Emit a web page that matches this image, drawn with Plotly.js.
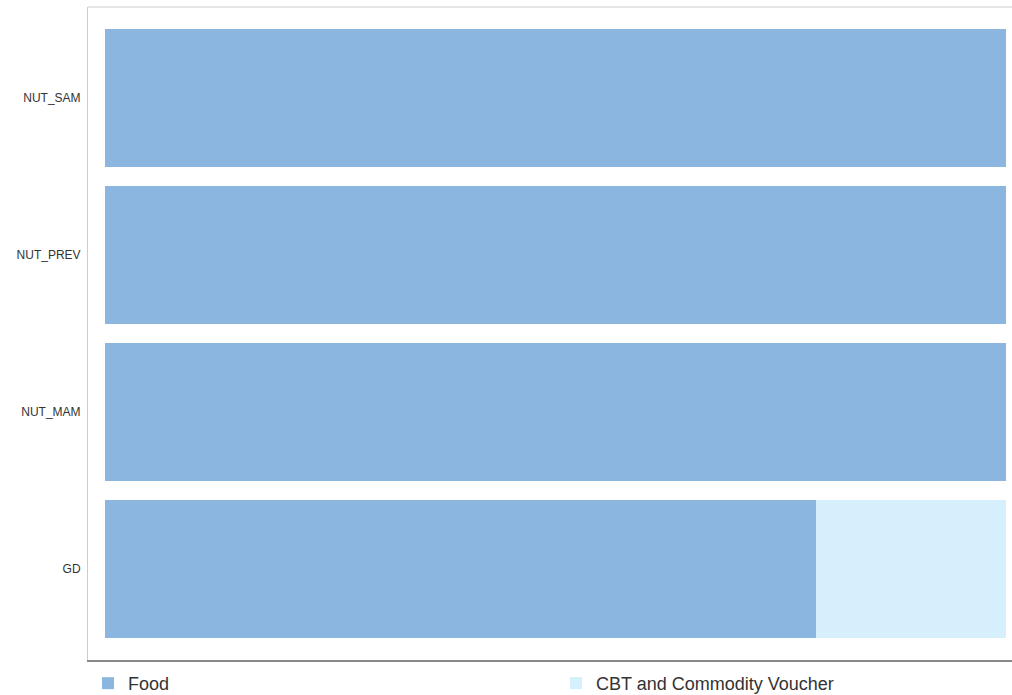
<!DOCTYPE html>
<html><head><meta charset="utf-8">
<script src="https://cdn.plot.ly/plotly-3.0.1.min.js"></script>
<style>html,body{margin:0;padding:0;background:#fff;}#chart{width:1012px;height:695px;}</style>
</head><body><div id="chart"></div>
<script>
const categories = ["GD", "NUT_MAM", "NUT_PREV", "NUT_SAM"];
const foodValues = [78.9, 100, 100, 100];
const cbtValues = [21.1, 0, 0, 0];
const seriesNames = ["Food", "CBT and Commodity Voucher"];

const traces = [
  {type:'bar', orientation:'h', name:seriesNames[0], y:categories, x:foodValues,
   marker:{color:'#8AB6E0', line:{width:0}}, legend:'legend'},
  {type:'bar', orientation:'h', name:seriesNames[1], y:categories, x:cbtValues,
   marker:{color:'#D5F0FC', line:{width:0}}, legend:'legend2'}
];
const legendFont = {family:'Liberation Sans, Arial, sans-serif', size:18, color:'#333'};
const layout = {
  width:1012, height:695,
  margin:{l:88, r:0, t:7, b:35, pad:0},
  paper_bgcolor:'#fff', plot_bgcolor:'#fff',
  barmode:'stack', bargap:0.121,
  font:{family:'Liberation Sans, Arial, sans-serif', color:'#333'},
  xaxis:{range:[-1.887, 100.67], showticklabels:false, showgrid:false, zeroline:false,
         showline:true, linecolor:'#888', linewidth:2, ticks:''},
  yaxis:{type:'category', categoryorder:'array', categoryarray:categories,
         range:[-0.5796, 3.5796], showgrid:false, zeroline:false,
         showline:true, linecolor:'#ccc', linewidth:1, ticks:'', ticklabelstandoff:4,
         tickfont:{size:12, color:'#333'}},
  shapes:[{type:'line', xref:'paper', yref:'paper', x0:0, x1:1, y0:1, y1:1,
           line:{color:'#ccc', width:1}}],
  legend:{orientation:'h', x:0, xanchor:'left', yref:'container', y:0.0432, yanchor:'top',
          font:legendFont, bgcolor:'rgba(0,0,0,0)'},
  legend2:{orientation:'h', x:0.5065, xanchor:'left', yref:'container', y:0.0432, yanchor:'top',
          font:legendFont, bgcolor:'rgba(0,0,0,0)'},
  showlegend:true
};
Plotly.newPlot('chart', traces, layout, {displayModeBar:false, staticPlot:true});
</script></body></html>
